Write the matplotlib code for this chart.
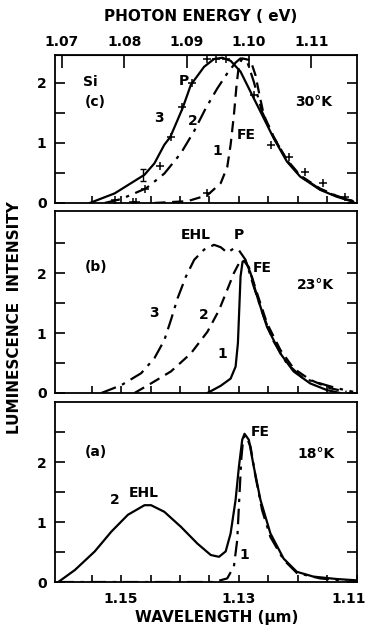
import numpy as np
import matplotlib
matplotlib.use("Agg")
import matplotlib.pyplot as plt
from matplotlib.transforms import ScaledTranslation

plt.rcParams["font.family"] = ["DejaVu Sans"]
plt.rcParams["font.size"] = 10
plt.rcParams["font.weight"] = "bold"

E_LIM = (1.06888, 1.1173)
# wavelength scale as drawn on the figure (linear in position)
WL_REF, E_REF, DE_DWL = 1.13, 1.09837, 0.9442


def wl_to_e(w):
    return E_REF - (w - WL_REF) * DE_DWL


# ---- panel (c) 30 K ----
c3_e = [1.07446, 1.07845, 1.08323, 1.08482, 1.08641, 1.08737, 1.08934, 1.09067,
        1.09279, 1.09438, 1.09571, 1.09704, 1.09863, 1.10049, 1.10208, 1.10394,
        1.10607, 1.10819, 1.11138, 1.11403, 1.11669]
c3_i = [0.0, 0.16, 0.47, 0.66, 0.97, 1.1, 1.58, 1.97, 2.27, 2.4, 2.42, 2.37,
        2.19, 1.8, 1.47, 1.08, 0.69, 0.44, 0.22, 0.105, 0.02]
c2_e = [1.07685, 1.07951, 1.0835, 1.08641, 1.08907, 1.0912, 1.09306, 1.09491,
        1.0965, 1.09784, 1.09863, 1.09969, 1.10076, 1.10208, 1.10394, 1.10607,
        1.10819, 1.11138, 1.11403, 1.11669]
c2_i = [0.0, 0.066, 0.245, 0.49, 0.83, 1.2, 1.58, 1.91, 2.16, 2.34, 2.41, 2.36,
        2.02, 1.52, 1.1, 0.71, 0.45, 0.23, 0.11, 0.03]
c1_e = [1.08482, 1.09013, 1.09332, 1.09545, 1.0965, 1.09704, 1.09757, 1.098,
        1.09837, 1.0989, 1.10023, 1.10103, 1.10155, 1.10235, 1.10394, 1.10607,
        1.10819, 1.11138, 1.11403, 1.11669]
c1_i = [0.0, 0.03, 0.13, 0.33, 0.6, 0.97, 1.47, 1.97, 2.3, 2.41, 2.38, 2.13,
        1.86, 1.47, 1.1, 0.72, 0.46, 0.24, 0.12, 0.03]
cx_e = [1.07845, 1.08131, 1.08195, 1.08339, 1.08578, 1.08753, 1.08928, 1.09088,
        1.09327, 1.0947, 1.0963, 1.10076, 1.1035, 1.10633, 1.109, 1.11191,
        1.11537, 1.09332]
cx_i = [0.05, 0.02, 0.02, 0.23, 0.62, 1.1, 1.6, 2.0, 2.4, 2.4, 2.4, 1.8, 0.97,
        0.77, 0.52, 0.33, 0.1, 0.16]
cerr_e, cerr_i, cerr_d = [1.08307], [0.47], [0.1]

# ---- panel (b) 23 K ----
b3_e = [1.07632, 1.07951, 1.0827, 1.08482, 1.08641, 1.08748, 1.08854, 1.08987,
        1.0912, 1.09279, 1.09438, 1.09545, 1.0965, 1.09757, 1.09837, 1.09943,
        1.10076, 1.10235, 1.10394, 1.10607, 1.10873, 1.11139, 1.11403, 1.11669]
b3_i = [0.0, 0.13, 0.33, 0.58, 0.88, 1.22, 1.58, 1.94, 2.22, 2.39, 2.47, 2.43,
        2.34, 2.41, 2.38, 2.22, 1.77, 1.27, 0.86, 0.49, 0.24, 0.16, 0.08, 0.02]
b2_e = [1.08163, 1.08429, 1.08748, 1.09067, 1.09332, 1.09518, 1.0965, 1.09757,
        1.09837, 1.09905, 1.09996, 1.10129, 1.10288, 1.10501, 1.10713, 1.10979,
        1.11298, 1.11563]
b2_i = [0.0, 0.16, 0.36, 0.66, 1.02, 1.38, 1.72, 2.0, 2.16, 2.22, 2.1, 1.66,
        1.16, 0.72, 0.41, 0.22, 0.08, 0.02]
b1_e = [1.09332, 1.09545, 1.09704, 1.09784, 1.09821, 1.09842, 1.09863, 1.09896,
        1.09943, 1.10023, 1.10129, 1.10288, 1.10501, 1.10713, 1.10979, 1.11244,
        1.11457]
b1_i = [0.0, 0.12, 0.24, 0.44, 0.83, 1.38, 1.94, 2.19, 2.2, 2.0, 1.61, 1.1,
        0.66, 0.36, 0.16, 0.05, 0.0]

# ---- panel (a) 18 K ----
a2_e = [1.06941, 1.07207, 1.07526, 1.07792, 1.08057, 1.08323, 1.08429, 1.08641,
        1.08907, 1.09172, 1.09386, 1.09518, 1.09625, 1.09704, 1.09784, 1.09837,
        1.0989, 1.09927, 1.09996, 1.10076, 1.10182, 1.10342, 1.10554, 1.10766,
        1.11032, 1.11403, 1.11696]
a2_i = [0.0, 0.2, 0.51, 0.84, 1.12, 1.28, 1.28, 1.17, 0.92, 0.64, 0.45, 0.42,
        0.51, 0.81, 1.37, 1.92, 2.37, 2.47, 2.37, 1.92, 1.37, 0.81, 0.39, 0.17,
        0.09, 0.05, 0.03]
a1_e = [1.06941, 1.09438, 1.0965, 1.09757, 1.0981, 1.09842, 1.09874, 1.09906,
        1.09943, 1.10023, 1.10103, 1.10208, 1.10342, 1.10554, 1.10766, 1.11139,
        1.11563]
a1_i = [0.0, 0.0, 0.06, 0.26, 0.7, 1.37, 2.03, 2.4, 2.45, 2.26, 1.76, 1.2,
        0.75, 0.37, 0.15, 0.06, 0.02]

wl_minor = [1.155, 1.15, 1.145, 1.14, 1.135, 1.13, 1.125, 1.12, 1.115]
wl_major = [1.15, 1.13, 1.11]
e_ticks = [1.07, 1.08, 1.09, 1.10, 1.11]

DASH = (0, (5, 3))
DASHDOT = (0, (7, 3, 1.5, 3))
TXT = dict(ha="center", va="center", fontsize=10, fontweight="bold")


def style_axes(ax, ymax, label_wl=False):
    ax.set_xlim(*E_LIM)
    ax.set_ylim(0, ymax)
    for s in ax.spines.values():
        s.set_linewidth(1.3)
    yt = [t for t in np.arange(0, 3.01, 0.5) if t < ymax - 0.05]
    ax.set_yticks(yt)
    ax.set_yticklabels(["%d" % t if t in (0, 1, 2) else "" for t in yt])
    ax.tick_params(axis="y", which="both", direction="in", length=7, width=1.2,
                   left=True, right=True, pad=6, labelsize=10)
    ax.set_xticks([wl_to_e(w) for w in wl_minor], minor=True)
    if label_wl:
        ax.set_xticks([wl_to_e(w) for w in wl_major])
        ax.set_xticklabels(["%.2f" % w for w in wl_major])
    else:
        ax.set_xticks([])
    ax.tick_params(axis="x", which="both", direction="in", length=5, width=1.2,
                   top=False, pad=7, labelsize=10)


fig = plt.figure(figsize=(3.69, 6.29), dpi=100)
L, W = 0.149, 0.8184
ax_c = fig.add_axes([L, 0.6773, W, 0.2353])
ax_b = fig.add_axes([L, 0.3752, W, 0.2893])
ax_a = fig.add_axes([L, 0.0747, W, 0.2862])

lw = 1.6
# (c)
ax_c.plot(c3_e, c3_i, color="k", lw=lw)
ax_c.plot(c2_e, c2_i, color="k", lw=lw, ls=DASHDOT)
ax_c.plot(c1_e, c1_i, color="k", lw=lw, ls=DASH)
ax_c.plot(cx_e, cx_i, ls="none", marker="+", ms=6, mew=1.1, color="k")
ax_c.errorbar(cerr_e, cerr_i, yerr=cerr_d, fmt="none", ecolor="k", capsize=2, elinewidth=1)
style_axes(ax_c, 2.467)
top = ax_c.secondary_xaxis("top")
top.set_xticks(e_ticks)
top.set_xticklabels(["%.2f" % e for e in e_ticks])
top.tick_params(direction="in", length=9, width=1.2, pad=4, labelsize=10)
for txt, e, i in [("Si", 1.0745, 2.02), ("(c)", 1.0753, 1.69), ("P", 1.0896, 2.03),
                  ("3", 1.0855, 1.42), ("2", 1.0909, 1.36), ("FE", 1.0996, 1.13),
                  ("1", 1.0949, 0.87), ("30°K", 1.1103, 1.69)]:
    ax_c.text(e, i, txt, **TXT)

# (b)
ax_b.plot(b3_e, b3_i, color="k", lw=lw, ls=DASHDOT)
ax_b.plot(b2_e, b2_i, color="k", lw=lw, ls=DASH)
ax_b.plot(b1_e, b1_i, color="k", lw=lw)
style_axes(ax_b, 3.033)
for txt, e, i in [("EHL", 1.0915, 2.63), ("P", 1.0984, 2.64), ("(b)", 1.0755, 2.1),
                  ("FE", 1.1021, 2.08), ("23°K", 1.1106, 1.8), ("3", 1.0848, 1.33),
                  ("2", 1.0927, 1.3), ("1", 1.0957, 0.65)]:
    ax_b.text(e, i, txt, **TXT)

# (a)
ax_a.plot(a2_e, a2_i, color="k", lw=lw)
ax_a.plot(a1_e, a1_i, color="k", lw=lw, ls=DASHDOT)
style_axes(ax_a, 3.0, label_wl=True)
# keep the last wavelength label inside the figure edge
last = ax_a.get_xticklabels()[-1]
last.set_transform(last.get_transform() + ScaledTranslation(-8 / 100, 0, fig.dpi_scale_trans))
for txt, e, i in [("(a)", 1.0755, 2.17), ("FE", 1.1018, 2.5), ("18°K", 1.1108, 2.14),
                  ("2", 1.0785, 1.37), ("EHL", 1.0831, 1.48), ("1", 1.0993, 0.45)]:
    ax_a.text(e, i, txt, **TXT)

fig.text(0.545, 0.973, "PHOTON ENERGY ( eV)", ha="center", va="center", fontsize=11)
fig.text(0.588, 0.019, "WAVELENGTH (μm)", ha="center", va="center", fontsize=11)
fig.text(0.04, 0.495, "LUMINESCENCE  INTENSITY", ha="center", va="center",
         rotation=90, fontsize=11)

fig.savefig("out.png", dpi=100)
